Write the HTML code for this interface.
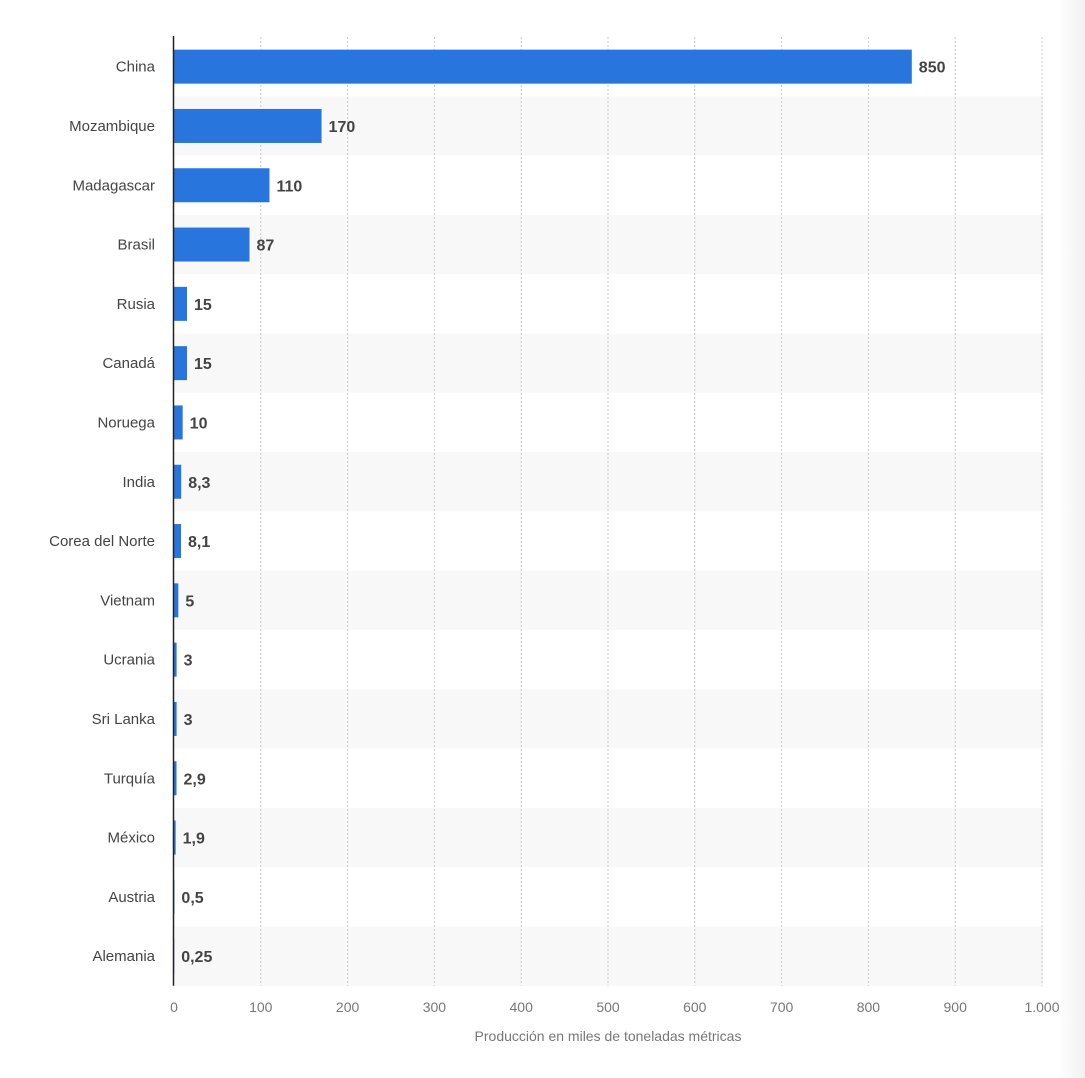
<!DOCTYPE html>
<html><head><meta charset="utf-8"><style>
body{margin:0;background:#fff;font-family:"Liberation Sans",sans-serif;}
#wrap{position:relative;width:1085px;height:1078px;overflow:hidden;}
#chart{position:absolute;left:0;top:0;}
#shadow{position:absolute;right:0;top:0;width:26px;height:1078px;background:linear-gradient(to right,rgba(245,245,245,0),#f1f1f1);}
</style></head><body>
<div id="wrap">
<svg id="chart" width="1085" height="1078"></svg>
<div id="shadow"></div>
</div>
<script>
const categories=["China","Mozambique","Madagascar","Brasil","Rusia","Canadá","Noruega","India","Corea del Norte","Vietnam","Ucrania","Sri Lanka","Turquía","México","Austria","Alemania"];
const values=[850,170,110,87,15,15,10,8.3,8.1,5,3,3,2.9,1.9,0.5,0.25];
const valueLabels=["850","170","110","87","15","15","10","8,3","8,1","5","3","3","2,9","1,9","0,5","0,25"];
const tickValues=[0,100,200,300,400,500,600,700,800,900,1000];
const tickLabels=["0","100","200","300","400","500","600","700","800","900","1.000"];
const NS="http://www.w3.org/2000/svg";
const svg=document.getElementById('chart');
const x0=174,x1=1042,topY=37,rowH=59.3,barH=34;
const xs=v=>x0+(v/1000)*(x1-x0);
const ys=i=>topY+i*rowH;
function mk(t,a){const e=document.createElementNS(NS,t);for(const k in a)e.setAttribute(k,a[k]);svg.appendChild(e);return e;}
categories.forEach((c,i)=>{
  if(i%2===1){const b=mk('rect',{x:x0,y:ys(i),width:x1-x0+1,height:rowH,fill:'#f8f8f8'});
  
  }
});
tickValues.forEach((t,i)=>{
  if(t>0){const g=mk('line',{x1:xs(t),x2:xs(t),y1:topY,y2:ys(categories.length),stroke:'#c8c8c8','stroke-dasharray':'2,2'});
  
  }
  const l=mk('text',{x:xs(t),y:1012,'text-anchor':'middle','font-size':'14',fill:'#777'});
  l.textContent=tickLabels[i];
  
  
});
categories.forEach((c,i)=>{
  const cy=ys(i)+rowH/2;
  const w=Math.max(xs(values[i])-x0,0);
  const r=mk('rect',{x:x0,y:cy-barH/2,width:w,height:barH,fill:'#2876dd'});
  
  
  const t=mk('text',{x:155,y:cy+5,'text-anchor':'end','font-size':'15',fill:'#444'});
  t.textContent=c;
  
  
  const v=mk('text',{x:x0+w+7,y:cy+6,'font-size':'16','font-weight':'bold',fill:'#444'});
  v.textContent=valueLabels[i];
  
  
});
const ax=mk('line',{x1:x0-0.5,x2:x0-0.5,y1:36,y2:ys(categories.length),stroke:'#222','stroke-width':1.5});


const title=mk('text',{x:608,y:1041,'text-anchor':'middle','font-size':'14',fill:'#777'});
title.textContent="Producción en miles de toneladas métricas";


</script>
</body></html>
